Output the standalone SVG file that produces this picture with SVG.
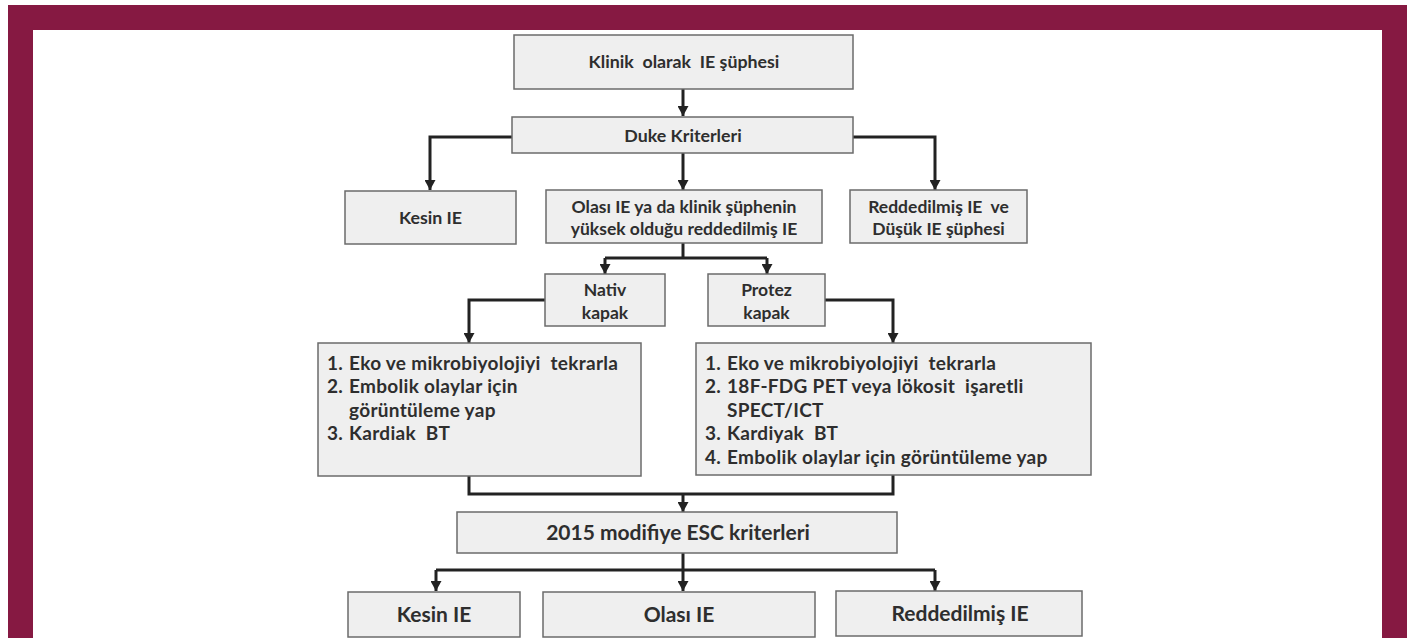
<svg xmlns="http://www.w3.org/2000/svg" width="1407" height="638" viewBox="0 0 1407 638">
<style>
.box{fill:#efefef;stroke:#6b6b6b;stroke-width:1.5}
.t{font-family:Lato,"Open Sans","Liberation Sans",sans-serif;font-weight:bold;fill:#2e2e2e;text-anchor:middle;white-space:pre}
.s{font-size:17.8px}
.k{font-size:17.5px}
.l{font-size:19px;text-anchor:start;letter-spacing:0.3px}
.b{font-size:21px}
.c{fill:none;stroke:#222;stroke-width:3}
</style>
<defs>
<marker id="ad" markerUnits="userSpaceOnUse" markerWidth="11" markerHeight="10" viewBox="0 0 11 10" refX="5.5" refY="10" orient="0">
<path d="M0,0 L11,0 L5.5,10 Z" fill="#222"/>
</marker>
</defs>
<rect x="0" y="0" width="1407" height="638" fill="#ffffff"/>
<rect x="8" y="5" width="1399" height="633" fill="#861942"/>
<rect x="33" y="30" width="1349" height="608" fill="#ffffff"/>

<g id="connectors">
<path class="c" d="M683,89 V116" marker-end="url(#ad)"/>
<path class="c" d="M512,137 H430 V190" marker-end="url(#ad)"/>
<path class="c" d="M853,137 H935 V190" marker-end="url(#ad)"/>
<path class="c" d="M683,153 V190" marker-end="url(#ad)"/>
<path class="c" d="M683,243 V258"/>
<path class="c" d="M605,258 H767"/>
<path class="c" d="M605,258 V274" marker-end="url(#ad)"/>
<path class="c" d="M767,258 V274" marker-end="url(#ad)"/>
<path class="c" d="M545,300 H469 V343" marker-end="url(#ad)"/>
<path class="c" d="M825,300 H893 V343" marker-end="url(#ad)"/>
<path class="c" d="M469,476 V494 H893 V475"/>
<path class="c" d="M683,494 V512" marker-end="url(#ad)"/>
<path class="c" d="M683,553 V570"/>
<path class="c" d="M436,570 H935"/>
<path class="c" d="M436,570 V591" marker-end="url(#ad)"/>
<path class="c" d="M683,570 V591" marker-end="url(#ad)"/>
<path class="c" d="M935,570 V591" marker-end="url(#ad)"/>
</g>

<g id="n-klinik">
<rect class="box" x="514" y="35" width="339" height="54"/>
<text class="t s" x="684" y="68">Klinik  olarak  IE şüphesi</text>
</g>
<g id="n-duke">
<rect class="box" x="512" y="117" width="341" height="36"/>
<text class="t s" x="683" y="142">Duke Kriterleri</text>
</g>
<g id="n-kesin1">
<rect class="box" x="345" y="191" width="171" height="53"/>
<text class="t s" x="430.5" y="224">Kesin IE</text>
</g>
<g id="n-olasi1">
<rect class="box" x="546" y="190" width="276" height="53"/>
<text class="t k" x="684" y="213">Olası IE ya da klinik şüphenin</text>
<text class="t k" x="684" y="235">yüksek olduğu reddedilmiş IE</text>
</g>
<g id="n-red1">
<rect class="box" x="850" y="190" width="177" height="53"/>
<text class="t k" x="938.5" y="213">Reddedilmiş IE  ve</text>
<text class="t k" x="938.5" y="235">Düşük IE şüphesi</text>
</g>
<g id="n-nativ">
<rect class="box" x="545" y="274" width="120" height="52"/>
<text class="t k" x="605" y="296">Nativ</text>
<text class="t k" x="605" y="319">kapak</text>
</g>
<g id="n-protez">
<rect class="box" x="708" y="274" width="117" height="52"/>
<text class="t k" x="766.5" y="296">Protez</text>
<text class="t k" x="766.5" y="319">kapak</text>
</g>
<g id="n-list-nativ">
<rect class="box" x="318" y="343" width="323" height="133"/>
<text class="t l" x="327" y="370">1.</text><text class="t l" x="349" y="370">Eko ve mikrobiyolojiyi  tekrarla</text>
<text class="t l" x="327" y="393">2.</text><text class="t l" x="349" y="393">Embolik olaylar için</text>
<text class="t l" x="349" y="417">görüntüleme yap</text>
<text class="t l" x="327" y="440">3.</text><text class="t l" x="349" y="440">Kardiak  BT</text>
</g>
<g id="n-list-protez">
<rect class="box" x="696" y="343" width="395" height="132"/>
<text class="t l" x="705" y="370">1.</text><text class="t l" x="727" y="370">Eko ve mikrobiyolojiyi  tekrarla</text>
<text class="t l" x="705" y="393">2.</text><text class="t l" x="727" y="393">18F-FDG PET veya lökosit  işaretli</text>
<text class="t l" x="727" y="417">SPECT/ICT</text>
<text class="t l" x="705" y="440">3.</text><text class="t l" x="727" y="440">Kardiyak  BT</text>
<text class="t l" x="705" y="464">4.</text><text class="t l" x="727" y="464">Embolik olaylar için görüntüleme yap</text>
</g>
<g id="n-esc">
<rect class="box" x="457" y="512" width="440" height="41"/>
<text class="t b" x="678" y="540">2015 modifiye ESC kriterleri</text>
</g>
<g id="n-kesin2">
<rect class="box" x="348" y="592" width="172" height="45"/>
<text class="t b" x="434" y="622">Kesin IE</text>
</g>
<g id="n-olasi2">
<rect class="box" x="543" y="592" width="272" height="45"/>
<text class="t b" x="679" y="622">Olası IE</text>
</g>
<g id="n-red2">
<rect class="box" x="836" y="591" width="246" height="45"/>
<text class="t b" x="960" y="621">Reddedilmiş IE</text>
</g>
</svg>
